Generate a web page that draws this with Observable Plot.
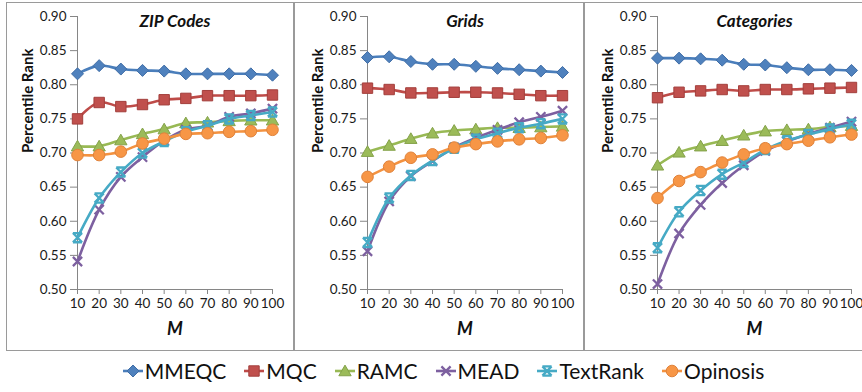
<!DOCTYPE html>
<html>
<head>
<meta charset="utf-8">
<script src="https://cdn.jsdelivr.net/npm/d3@7"></script>
<script src="https://cdn.jsdelivr.net/npm/@observablehq/plot@0.6"></script>
<style>
  body { margin: 0; background: #fff; font-family: Lato, "Open Sans", sans-serif; }
  #wrap { position: relative; width: 862px; height: 392px; overflow: hidden; }
  .box { position: absolute; top: 2px; height: 349px; border: 1.5px solid #9a9a9a; box-sizing: border-box; }
  .chart { position: absolute; top: 0; }
  #legend { position: absolute; top: 358px; left: 0; width: 886px; display: flex; justify-content: center; gap: 17px; font-size: 21px; color: #111; }
  #legend .item { display: flex; align-items: center; }
  #legend svg { display: block; margin-right: 1px; }
</style>
</head>
<body>
<div id="wrap">
  <div class="box" style="left:6px;width:288px;"></div>
  <div class="box" style="left:294px;width:290px;"></div>
  <div class="box" style="left:584px;width:290px;"></div>
  <div id="c1" class="chart" style="left:0px;"></div>
  <div id="c2" class="chart" style="left:293px;"></div>
  <div id="c3" class="chart" style="left:583px;"></div>
  <div id="legend"></div>
</div>
<script>
// ---- data ----
const M = [10, 20, 30, 40, 50, 60, 70, 80, 90, 100];
const yTicks = [0.50, 0.55, 0.60, 0.65, 0.70, 0.75, 0.80, 0.85, 0.90];
const seriesNames = ["MMEQC", "MQC", "RAMC", "MEAD", "TextRank", "Opinosis"];
const panelTitles = ["ZIP Codes", "Grids", "Categories"];

// ZIP Codes
const zipMMEQC    = [0.816, 0.828, 0.823, 0.821, 0.820, 0.816, 0.816, 0.816, 0.816, 0.814];
const zipMQC      = [0.750, 0.774, 0.768, 0.771, 0.778, 0.780, 0.784, 0.784, 0.784, 0.785];
const zipRAMC     = [0.710, 0.710, 0.719, 0.728, 0.735, 0.744, 0.745, 0.747, 0.748, 0.748];
const zipMEAD     = [0.541, 0.617, 0.665, 0.694, 0.718, 0.734, 0.740, 0.753, 0.758, 0.765];
const zipTextRank = [0.576, 0.634, 0.672, 0.700, 0.717, 0.731, 0.740, 0.750, 0.755, 0.760];
const zipOpinosis = [0.697, 0.697, 0.702, 0.714, 0.721, 0.728, 0.729, 0.731, 0.732, 0.734];

// Grids
const gridMMEQC    = [0.840, 0.841, 0.834, 0.830, 0.830, 0.827, 0.824, 0.822, 0.820, 0.818];
const gridMQC      = [0.795, 0.793, 0.788, 0.788, 0.789, 0.789, 0.788, 0.786, 0.784, 0.784];
const gridRAMC     = [0.702, 0.711, 0.721, 0.729, 0.733, 0.735, 0.737, 0.737, 0.738, 0.739];
const gridMEAD     = [0.556, 0.629, 0.666, 0.688, 0.708, 0.722, 0.734, 0.745, 0.753, 0.762];
const gridTextRank = [0.569, 0.634, 0.667, 0.689, 0.707, 0.720, 0.729, 0.737, 0.743, 0.750];
const gridOpinosis = [0.665, 0.680, 0.693, 0.698, 0.708, 0.713, 0.717, 0.720, 0.722, 0.726];

// Categories
const catMMEQC    = [0.839, 0.839, 0.838, 0.836, 0.830, 0.829, 0.825, 0.822, 0.822, 0.821];
const catMQC      = [0.781, 0.789, 0.791, 0.793, 0.791, 0.793, 0.793, 0.794, 0.795, 0.796];
const catRAMC     = [0.682, 0.701, 0.710, 0.718, 0.726, 0.732, 0.734, 0.735, 0.738, 0.740];
const catMEAD     = [0.508, 0.582, 0.624, 0.656, 0.682, 0.703, 0.717, 0.728, 0.737, 0.746];
const catTextRank = [0.561, 0.614, 0.645, 0.669, 0.686, 0.705, 0.718, 0.727, 0.735, 0.742];
const catOpinosis = [0.634, 0.659, 0.672, 0.686, 0.698, 0.707, 0.713, 0.718, 0.723, 0.727];

const panels = [
  [zipMMEQC, zipMQC, zipRAMC, zipMEAD, zipTextRank, zipOpinosis],
  [gridMMEQC, gridMQC, gridRAMC, gridMEAD, gridTextRank, gridOpinosis],
  [catMMEQC, catMQC, catRAMC, catMEAD, catTextRank, catOpinosis]
];

// ---- styles ----
const symDiamond = {draw(c, s) { const r = Math.sqrt(s / Math.PI); c.moveTo(0, -r); c.lineTo(r, 0); c.lineTo(0, r); c.lineTo(-r, 0); c.closePath(); }};
const symSquare = {draw(c, s) { const r = Math.sqrt(s / Math.PI); c.rect(-r, -r, 2 * r, 2 * r); }};
const symTriangle = {draw(c, s) { const r = Math.sqrt(s / Math.PI); c.moveTo(0, -r * 1.05); c.lineTo(r * 1.1, r * 0.85); c.lineTo(-r * 1.1, r * 0.85); c.closePath(); }};
const symX = {draw(c, s) { const r = Math.sqrt(s / Math.PI); c.moveTo(-r, -r); c.lineTo(r, r); c.moveTo(r, -r); c.lineTo(-r, r); }};
const symStar = {draw(c, s) { const r = Math.sqrt(s / Math.PI); c.moveTo(-r, -r); c.lineTo(r, r); c.moveTo(r, -r); c.lineTo(-r, r); c.moveTo(-r, -r); c.lineTo(r, -r); c.moveTo(-r, r); c.lineTo(r, r); }};
const symCircle = {draw(c, s) { const r = Math.sqrt(s / Math.PI); c.moveTo(r, 0); c.arc(0, 0, r, 0, 2 * Math.PI); }};

const styles = [
  {line: "#4A7EBB", fill: "#4F81BD", edge: "#3F6DA6", sym: symDiamond, r: 6, filled: true},
  {line: "#BE4B48", fill: "#C0504D", edge: "#A33F3C", sym: symSquare, r: 5.2, filled: true},
  {line: "#98B954", fill: "#9BBB59", edge: "#84A24A", sym: symTriangle, r: 5.6, filled: true},
  {line: "#7D60A0", fill: "none", edge: "#7D60A0", sym: symX, r: 4.6, filled: false},
  {line: "#46AAC5", fill: "none", edge: "#46AAC5", sym: symStar, r: 4.6, filled: false},
  {line: "#F39240", fill: "#F79646", edge: "#E0823A", sym: symCircle, r: 5.8, filled: true}
];

const geom = [
  {width: 293, marginLeft: 77, marginRight: 21},
  {width: 290, marginLeft: 74, marginRight: 21},
  {width: 279, marginLeft: 74, marginRight: 11}
];

function makePanel(i) {
  const rows = [];
  panels[i].forEach((vals, s) => vals.forEach((v, k) => rows.push({series: seriesNames[s], s, M: M[k], v})));
  const marks = [
    Plot.ruleX([10], {stroke: "#868686", strokeWidth: 1}),
    Plot.ruleY([0.5], {stroke: "#868686", strokeWidth: 1}),
    Plot.axisX({ticks: M, tickSize: 5, tickPadding: 4, label: null, stroke: "#868686", fill: "#1a1a1a", fontSize: 13.5}),
    Plot.axisY({ticks: yTicks, tickSize: 7, tickPadding: 4, tickFormat: d3.format(".2f"), label: null, stroke: "#868686", fill: "#1a1a1a", fontSize: 13.5})
  ];
  styles.forEach((st, s) => {
    const data = rows.filter(d => d.s === s);
    marks.push(Plot.line(data, {x: "M", y: "v", stroke: st.line, strokeWidth: 2.6, curve: "catmull-rom"}));
    marks.push(Plot.dot(data, {
      x: "M", y: "v", symbol: st.sym, r: st.r,
      fill: st.filled ? st.fill : "none",
      stroke: st.edge, strokeWidth: st.filled ? 1 : 2.3
    }));
  });
  marks.push(Plot.text([panelTitles[i]], {frameAnchor: "top", text: d => d, dy: 5, lineAnchor: "middle", fontSize: 17, fontWeight: "bold", fontStyle: "italic", fill: "#111"}));
  marks.push(Plot.text(["M"], {frameAnchor: "bottom", text: d => d, dy: 40, lineAnchor: "middle", fontSize: 18, fontWeight: "bold", fontStyle: "italic", fill: "#111"}));
  marks.push(Plot.text(["Percentile Rank"], {frameAnchor: "left", text: d => d, dx: -49, rotate: -90, lineAnchor: "middle", fontSize: 15, fontWeight: "bold", fill: "#111"}));
  return Plot.plot({
    width: geom[i].width,
    height: 350,
    marginLeft: geom[i].marginLeft,
    marginRight: geom[i].marginRight,
    marginTop: 16,
    marginBottom: 61,
    style: {fontFamily: "Lato, 'Open Sans', sans-serif", fontSize: "13px", background: "transparent", color: "#1a1a1a"},
    x: {domain: [10, 100], axis: null},
    y: {domain: [0.5, 0.9], axis: null},
    marks
  });
}

["c1", "c2", "c3"].forEach((id, i) => document.getElementById(id).appendChild(makePanel(i)));

// legend
const legend = document.getElementById("legend");
seriesNames.forEach((name, s) => {
  const st = styles[s];
  const item = document.createElement("div");
  item.className = "item";
  const svg = d3.create("svg").attr("width", 22).attr("height", 20);
  svg.append("line").attr("x1", 1).attr("x2", 21).attr("y1", 10).attr("y2", 10).attr("stroke", st.line).attr("stroke-width", 2.6);
  const p = d3.path();
  st.sym.draw(p, Math.PI * st.r * st.r);
  svg.append("path").attr("d", p.toString()).attr("transform", "translate(11,10)")
    .attr("fill", st.filled ? st.fill : "none").attr("stroke", st.edge).attr("stroke-width", st.filled ? 1 : 2.3);
  item.appendChild(svg.node());
  const t = document.createElement("span");
  t.textContent = name;
  item.appendChild(t);
  legend.appendChild(item);
});
</script>
</body>
</html>
